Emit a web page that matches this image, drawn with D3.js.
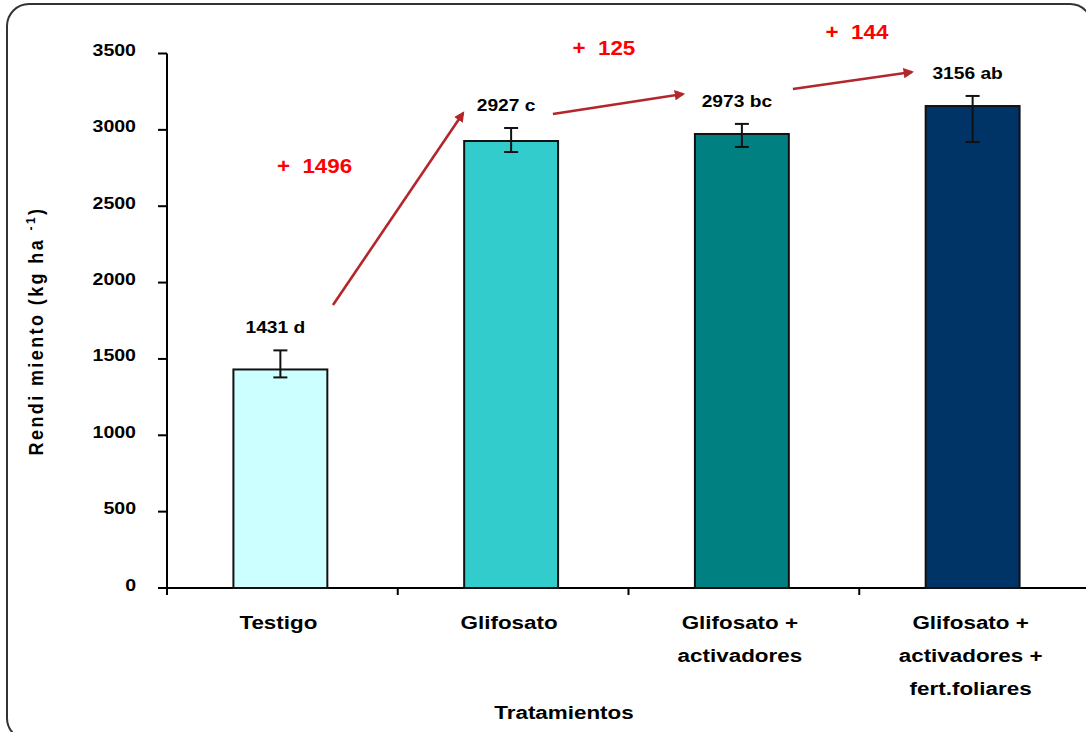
<!DOCTYPE html>
<html>
<head>
<meta charset="utf-8">
<script src="https://cdn.jsdelivr.net/npm/d3@7"></script>
<style>
  html, body { margin: 0; padding: 0; background: #fff; }
  svg { display: block; font-family: "Liberation Sans", Arial, sans-serif; }
</style>
</head>
<body>
<svg id="chart" width="1086" height="732"></svg>
<script>
// Treatments and mean yield (kg/ha)
const categories = ["Testigo", "Glifosato", "Glifosato + activadores", "Glifosato + activadores + fert.foliares"];
const categoryLines = [["Testigo"], ["Glifosato"], ["Glifosato +", "activadores"], ["Glifosato +", "activadores +", "fert.foliares"]];
const yieldValues = [1431, 2927, 2973, 3156];
const letters = ["d", "c", "bc", "ab"];
// Error bar extents above / below the mean
const errUp = [125, 85, 66, 66];
const errDown = [52, 72, 85, 236];
const barColors = ["#ccffff", "#33cccc", "#008080", "#003366"];
const yTicks = [0, 500, 1000, 1500, 2000, 2500, 3000, 3500];
// Yield gains between consecutive treatments, with arrows in (category index, yield) units
const gainLabels = ["+\u00a0\u00a01496", "+\u00a0\u00a0125", "+\u00a0\u00a0144"];
const gainLabelPos = [[0.148, 2718], [1.402, 3490], [2.499, 3595]];
const gainArrows = [
  [[0.228, 1853], [0.792, 3110]],
  [[1.181, 3104], [1.745, 3235]],
  [[2.221, 3268], [2.737, 3379]]
];

const svg = d3.select("#chart");
const SX = 1.13; // horizontal stretch of the lettering

// outer frame
svg.append("rect")
  .attr("x", 7).attr("y", 4).attr("width", 1085).attr("height", 736)
  .attr("rx", 22).attr("ry", 22)
  .attr("fill", "none").attr("stroke", "#333").attr("stroke-width", 2);

const plotLeft = 167, plotBottom = 588, plotTop = 53.5;
const x = d3.scaleBand().domain(categories).range([165, 1088]).padding(0);
const y = d3.scaleLinear().domain([0, 3500]).range([plotBottom, plotTop]);
const centers = categories.map(c => x(c) + x.bandwidth() / 2);
const xi = d3.scaleLinear().domain([0, 3]).range([centers[0], centers[3]]);
const barW = x.bandwidth() * 0.407;

function stretchedText(sel, tx, ty, sx) {
  return sel.attr("transform", `translate(${tx},${ty}) scale(${sx},1)`);
}

// y axis
const yAxis = svg.append("g");
yAxis.append("line")
  .attr("x1", plotLeft).attr("x2", plotLeft)
  .attr("y1", y(3500)).attr("y2", plotBottom)
  .attr("stroke", "#000").attr("stroke-width", 2);
yTicks.forEach(t => {
  yAxis.append("line")
    .attr("x1", plotLeft - 9).attr("x2", plotLeft)
    .attr("y1", y(t)).attr("y2", y(t))
    .attr("stroke", "#000").attr("stroke-width", 2);
  stretchedText(yAxis.append("text"), 136, y(t) + 2.5, 1.15)
    .attr("text-anchor", "end")
    .attr("font-size", 17).attr("font-weight", "bold")
    .text(t);
});

// x axis
const xAxis = svg.append("g");
xAxis.append("line")
  .attr("x1", 158).attr("x2", 1090)
  .attr("y1", plotBottom).attr("y2", plotBottom)
  .attr("stroke", "#000").attr("stroke-width", 2);
categories.forEach(c => {
  xAxis.append("line")
    .attr("x1", x(c) + 2).attr("x2", x(c) + 2)
    .attr("y1", plotBottom).attr("y2", plotBottom + 7)
    .attr("stroke", "#000").attr("stroke-width", 2);
});

// bars
svg.append("g").selectAll("rect")
  .data(categories)
  .join("rect")
  .attr("x", (c, i) => centers[i] - barW / 2)
  .attr("y", (c, i) => y(yieldValues[i]))
  .attr("width", barW)
  .attr("height", (c, i) => plotBottom - y(yieldValues[i]))
  .attr("fill", (c, i) => barColors[i])
  .attr("stroke", "#111").attr("stroke-width", 2);

// error bars
const eb = svg.append("g").attr("stroke", "#111").attr("stroke-width", 2);
categories.forEach((c, i) => {
  const hi = y(yieldValues[i] + errUp[i]);
  const lo = y(yieldValues[i] - errDown[i]);
  eb.append("line").attr("x1", centers[i]).attr("x2", centers[i]).attr("y1", hi).attr("y2", lo);
  eb.append("line").attr("x1", centers[i] - 7).attr("x2", centers[i] + 7).attr("y1", hi).attr("y2", hi);
  eb.append("line").attr("x1", centers[i] - 7).attr("x2", centers[i] + 7).attr("y1", lo).attr("y2", lo);
});

// value + significance letter above each bar
categories.forEach((c, i) => {
  stretchedText(svg.append("text"), centers[i] - 5, y(yieldValues[i] + errUp[i]) - 17, SX)
    .attr("text-anchor", "middle")
    .attr("font-size", 17).attr("font-weight", "bold")
    .text(`${yieldValues[i]} ${letters[i]}`);
});

// category labels
categories.forEach((c, i) => {
  categoryLines[i].forEach((line, k) => {
    stretchedText(svg.append("text"), centers[i] - 2, 629 + k * 33, 1.18)
      .attr("text-anchor", "middle")
      .attr("font-size", 19).attr("font-weight", "bold")
      .text(line);
  });
});

// axis titles
stretchedText(svg.append("text"), 564, 719, 1.18)
  .attr("text-anchor", "middle")
  .attr("font-size", 19).attr("font-weight", "bold")
  .text("Tratamientos");

const yTitle = svg.append("text")
  .attr("transform", "translate(43,331) rotate(-90) scale(1,1.12)")
  .attr("text-anchor", "middle")
  .attr("font-size", 18).attr("font-weight", "bold")
  .attr("letter-spacing", 2.4);
yTitle.append("tspan").text("Rendi miento (kg ha ");
yTitle.append("tspan").attr("font-size", 12).attr("dy", -7).text("-1");
yTitle.append("tspan").attr("dy", 7).text(")");

// gain arrows
const defs = svg.append("defs");
defs.append("marker")
  .attr("id", "head")
  .attr("viewBox", "0 0 10 10")
  .attr("refX", 8).attr("refY", 5)
  .attr("markerWidth", 4).attr("markerHeight", 4)
  .attr("orient", "auto")
  .append("path").attr("d", "M0,0 L10,5 L0,10 z").attr("fill", "#b3262a");

gainArrows.forEach(a => {
  svg.append("line")
    .attr("x1", xi(a[0][0])).attr("y1", y(a[0][1]))
    .attr("x2", xi(a[1][0])).attr("y2", y(a[1][1]))
    .attr("stroke", "#b3262a").attr("stroke-width", 2.6)
    .attr("marker-end", "url(#head)");
});

gainLabels.forEach((t, i) => {
  stretchedText(svg.append("text"), xi(gainLabelPos[i][0]), y(gainLabelPos[i][1]), 1.12)
    .attr("text-anchor", "middle")
    .attr("font-size", 20).attr("font-weight", "bold")
    .attr("fill", "#ff0000")
    .text(t);
});
</script>
</body>
</html>
